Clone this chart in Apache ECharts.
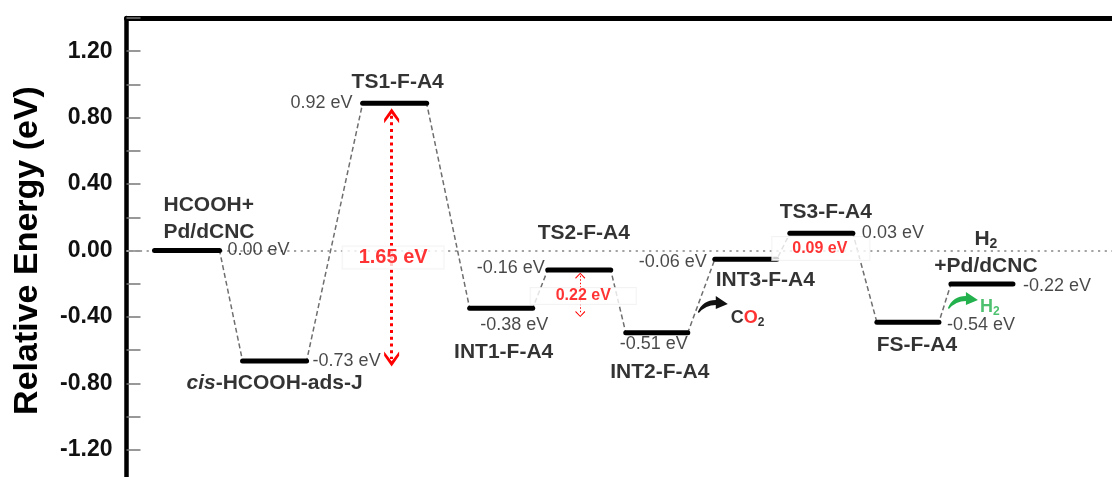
<!DOCTYPE html>
<html><head><meta charset="utf-8">
<script src="https://cdn.jsdelivr.net/npm/echarts@6/dist/echarts.min.js"></script>
<style>html,body{margin:0;padding:0;background:#fff}#c{width:1112px;height:477px}</style>
</head><body><div id="c"></div>
<script>
// ---------- data ----------
const stateNames = ['HCOOH+\nPd/dCNC', '{i|cis}-HCOOH-ads-J', 'TS1-F-A4', 'INT1-F-A4', 'TS2-F-A4',
  'INT2-F-A4', 'INT3-F-A4', 'TS3-F-A4', 'FS-F-A4', '{b|H}{s|2}\n+Pd/dCNC'];
const energyLabels = ['0.00 eV', '-0.73 eV', '0.92 eV', '-0.38 eV', '-0.16 eV',
  '-0.51 eV', '-0.06 eV', '0.03 eV', '-0.54 eV', '-0.22 eV'];
// drawn level heights (eV)
const levelEnergy = [0.00, -0.665, 0.886, -0.348, -0.117, -0.495, -0.053, 0.104, -0.432, -0.202];
// reaction coordinate (arbitrary units) of each level's left / right end
const levelStart = [2.8, 11.6, 23.6, 34.3, 42.1, 49.9, 58.8, 66.3, 75.0, 82.4];
const levelEnd   = [9.3, 18.0, 30.0, 40.6, 48.4, 56.1, 65.0, 72.6, 81.2, 88.6];
const yLabelStep = 0.4;
// barrier annotations
const barrierText = ['1.65 eV', '0.22 eV', '0.09 eV'];
const barrierX = [26.5, 45.35, 69.4];
const barrierLabelY = [-0.042, -0.274, 0.012];
const barrierTop = [0.812, -0.152];
const barrierBottom = [-0.654, -0.383];
// released gases
const gasText = ['{k|C}{r|O}{ks|2}', '{g|H}{gs|2}'];
const gasX = [57.1, 82.1];
const gasY = [-0.37, -0.346];

// ---------- layout / style ----------
const FONT = '"Liberation Sans", Arial, Helvetica, sans-serif';
const energyLayout = [
  {at:'end', align:'left', off:[8,0]},
  {at:'end', align:'left', off:[6,0]},
  {at:'start', align:'right', off:[-10,0]},
  {at:'center', align:'center', off:[13,17]},
  {at:'start', align:'right', off:[-3,-2]},
  {at:'center', align:'center', off:[-3,11]},
  {at:'start', align:'right', off:[-8,3]},
  {at:'end', align:'left', off:[9,0]},
  {at:'end', align:'left', off:[8,3]},
  {at:'end', align:'left', off:[10,2]}
];
const nameLayout = [
  {at:'start', align:'left', off:[9,-32]},
  {at:'center', align:'center', off:[0,22]},
  {at:'center', align:'center', off:[3,-21]},
  {at:'center', align:'center', off:[2.5,44]},
  {at:'center', align:'center', off:[4.5,-37]},
  {at:'center', align:'center', off:[3,39]},
  {at:'center', align:'center', off:[19.5,21]},
  {at:'center', align:'center', off:[4.5,-21]},
  {at:'center', align:'center', off:[9,23]},
  {at:'center', align:'center', off:[4,-31]}
];
const barrierStyle = [
  {fontSize:20, padding:[1,16,1,16], off:[1.5,0]},
  {fontSize:16, padding:[0,25,0,25], off:[3,0]},
  {fontSize:16, padding:[3,22,4,20], off:[0,0]}
];
const gasLayout = [{off:[33,6]}, {off:[32,-1]}];
const gasColor = ['#111', '#22b14c'];

function anchorX(i, at) {
  return at === 'start' ? levelStart[i] : at === 'end' ? levelEnd[i] : (levelStart[i] + levelEnd[i]) / 2;
}

const series = [];

// connectors (dashed) + zero reference line
const path = [];
levelEnergy.forEach((v, i) => { path.push([levelStart[i], v]); path.push([levelEnd[i], v]); });
series.push({
  type: 'line', data: path, symbol: 'none', silent: true, z: 2,
  lineStyle: {color: '#6e6e6e', width: 1.5, type: [5, 3]},
  markLine: {
    silent: true, symbol: 'none', label: {show: false},
    lineStyle: {color: '#a3a3a3', width: 2, type: [2.2, 4.5]},
    data: [[{coord: [0, 0]}, {coord: [98.8, 0]}]]
  }
});

// energy levels
levelEnergy.forEach((v, i) => {
  series.push({
    type: 'line', data: [[levelStart[i], v], [levelEnd[i], v]], symbol: 'none', silent: true, z: 5,
    lineStyle: {color: '#000', width: 5, cap: 'round'}
  });
});

// barrier arrows
const chevron = 'path://M50,0 L100,72 L100,100 L50,36 L0,100 L0,72 Z';
const thinChevron = 'path://M50,0 L100,85 L94,100 L50,22 L6,100 L0,85 Z';
series.push({
  type: 'line', data: [], silent: true, z: 3,
  markLine: {
    silent: true, label: {show: false}, symbol: [chevron, chevron], symbolSize: [15, 15],
    lineStyle: {color: '#ff0000', width: 3, type: [3, 3.7]},
    data: [[{coord: [barrierX[0], barrierTop[0]]}, {coord: [barrierX[0], barrierBottom[0]]}]]
  }
});
series.push({
  type: 'line', data: [], silent: true, z: 3,
  markLine: {
    silent: true, label: {show: false}, symbol: [thinChevron, thinChevron], symbolSize: [10, 6],
    lineStyle: {color: '#ff0000', width: 1, type: [1.5, 2]},
    data: [[{coord: [barrierX[1], barrierTop[1]]}, {coord: [barrierX[1], barrierBottom[1]]}]]
  }
});

// barrier labels (white boxes)
series.push({
  type: 'scatter', symbolSize: 0, silent: true, z: 6,
  data: barrierText.map((t, i) => ({
    value: [barrierX[i], barrierLabelY[i]],
    label: {
      show: true, position: 'inside', offset: barrierStyle[i].off, formatter: t,
      color: '#ff0000', fontWeight: 'bold', fontFamily: FONT, fontSize: barrierStyle[i].fontSize,
      lineHeight: barrierStyle[i].fontSize, backgroundColor: '#fff', borderColor: '#f0f0f0', borderWidth: 1,
      padding: barrierStyle[i].padding
    }
  }))
});

// curved gas-release arrows
const arrowPath = 'M0,16 Q5,4 18,4 L18,0 L30,8 L18,13 L18,9 Q8,9 1,17 Z';
series.push({
  type: 'custom', silent: true, z: 7,
  data: gasX.map((x, i) => [x, gasY[i], i]),
  renderItem: (params, api) => {
    const p = api.coord([api.value(0), api.value(1)]);
    return {
      type: 'path',
      shape: {pathData: arrowPath, x: p[0], y: p[1] - 16, width: 30, height: 17},
      style: {fill: gasColor[api.value(2)]}
    };
  }
});

// text labels
const labelData = [];
levelEnergy.forEach((v, i) => {
  const e = energyLayout[i], n = nameLayout[i];
  labelData.push({
    value: [anchorX(i, e.at), v],
    label: {show: true, position: 'inside', offset: e.off, align: e.align, verticalAlign: 'middle',
      formatter: energyLabels[i], fontSize: 18, color: '#1a1a1a', fontFamily: FONT}
  });
  labelData.push({
    value: [anchorX(i, n.at), v],
    label: {show: true, position: 'inside', offset: n.off, align: n.align, verticalAlign: 'middle',
      formatter: stateNames[i], fontSize: 21, fontWeight: 'bold', color: '#000', fontFamily: FONT, lineHeight: 27,
      rich: {
        i: {fontSize: 21, fontWeight: 'bold', fontStyle: 'italic', color: '#000', fontFamily: FONT, lineHeight: 27},
        b: {fontSize: 21, fontWeight: 'bold', color: '#000', fontFamily: FONT, lineHeight: 26},
        s: {fontSize: 14, fontWeight: 'bold', color: '#000', fontFamily: FONT, padding: [9, 0, 0, 0]}
      }}
  });
});
gasX.forEach((x, i) => {
  labelData.push({
    value: [x, gasY[i]],
    label: {show: true, position: 'inside', offset: gasLayout[i].off, align: 'left', verticalAlign: 'middle',
      formatter: gasText[i],
      rich: {
        k: {fontSize: 18, fontWeight: 'bold', color: '#000', fontFamily: FONT},
        r: {fontSize: 18, fontWeight: 'bold', color: '#ff0000', fontFamily: FONT},
        ks: {fontSize: 12, fontWeight: 'bold', color: '#000', fontFamily: FONT, padding: [9, 0, 0, 0]},
        g: {fontSize: 18, fontWeight: 'bold', color: '#22b14c', fontFamily: FONT},
        gs: {fontSize: 12, fontWeight: 'bold', color: '#22b14c', fontFamily: FONT, padding: [9, 0, 0, 0]}
      }}
  });
});
series.push({type: 'scatter', symbolSize: 0, silent: true, z: 10, data: labelData});

const chart = echarts.init(document.getElementById('c'));
chart.setOption({
  animation: false,
  backgroundColor: '#fff',
  grid: {left: 126.5, right: -3, top: 18, bottom: -6, outerBoundsMode: 'none', containLabel: false},
  xAxis: {
    type: 'value', min: 0, max: 98.8, position: 'top',
    axisLine: {show: true, onZero: false, lineStyle: {color: '#000', width: 5}},
    axisTick: {show: false}, axisLabel: {show: false}, splitLine: {show: false}
  },
  yAxis: {
    type: 'value', min: -1.4, max: 1.4, interval: 0.2,
    name: 'Relative Energy (eV)', nameLocation: 'middle', nameRotate: 90, nameGap: 82,
    nameTextStyle: {fontSize: 34, fontWeight: 'bold', color: '#000', fontFamily: FONT},
    axisLine: {show: true, onZero: false, lineStyle: {color: '#000', width: 4.5}},
    axisTick: {show: true, inside: true, length: 14, lineStyle: {color: '#777', width: 1.5}},
    axisLabel: {
      margin: 14, fontSize: 23, fontWeight: 'bold', color: '#111', fontFamily: FONT, padding: [7, 0, 0, 0],
      formatter: v => {
        if (Math.abs(v) < 1e-9) return '0.00';
        const k = v / yLabelStep;
        return Math.abs(k - Math.round(k)) < 1e-6 ? v.toFixed(2) : '';
      }
    },
    splitLine: {show: false}
  },
  series: series
});
</script>
</body></html>
